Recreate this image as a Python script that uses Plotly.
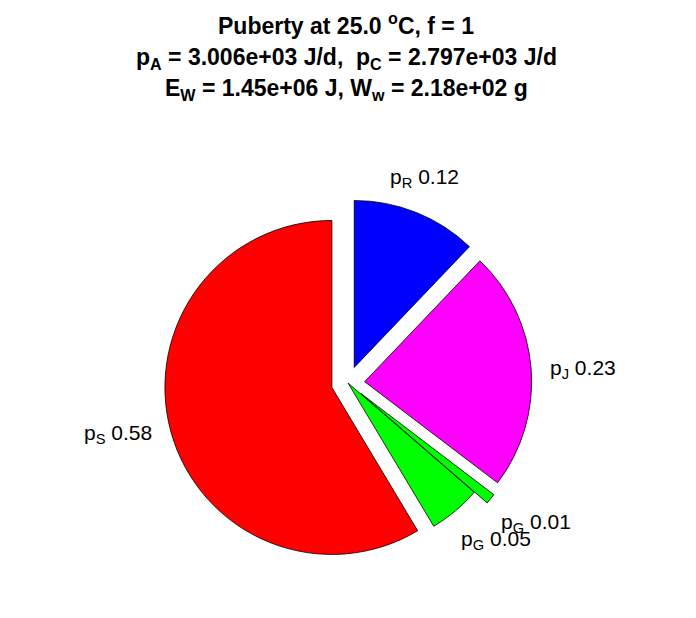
import math
import plotly.graph_objects as go

# ---- data ----
slice_labels = ["p<sub>R</sub>", "p<sub>J</sub>", "p<sub>G</sub>", "p<sub>G</sub>", "p<sub>S</sub>"]
slice_values = [0.12, 0.23, 0.01, 0.05, 0.58]
slice_colors = ["#0000ff", "#ff00ff", "#00ff00", "#00ff00", "#ff0000"]
slice_explode = [1, 1, 1, 0, 1]
title_lines = [
    "Puberty at 25.0 <sup>o</sup>C, f = 1",
    "p<sub>A</sub> = 3.006e+03 J/d, &nbsp;p<sub>C</sub> = 2.797e+03 J/d",
    "E<sub>W</sub> = 1.45e+06 J, W<sub>w</sub> = 2.18e+02 g",
]

# ---- layout geometry (pixels, in screenshot coordinates) ----
W, H = 696, 618
OFF = 8                     # page body margin
CX, CY = 348 - OFF, 383 - OFF   # pie centre in figure pixels
R = 167                     # pie radius
PULL = 0.1                  # explode fraction
FONT = "Liberation Sans, Arial, Helvetica, sans-serif"

half = R * (1 + PULL)
dom_x = [(CX - half) / W, (CX + half) / W]
dom_y = [(H - CY - half) / H, (H - CY + half) / H]

fig = go.Figure(go.Pie(
    labels=[f"s{i}" for i in range(len(slice_values))],
    values=slice_values,
    sort=False,
    direction="clockwise",
    rotation=0,
    pull=[PULL * e for e in slice_explode],
    marker=dict(colors=slice_colors, line=dict(color="black", width=0.8)),
    textinfo="none",
    hoverinfo="skip",
    showlegend=False,
    domain=dict(x=dom_x, y=dom_y),
    automargin=False,
))

annotations = []
total = sum(slice_values)
cum = 0.0
for lab, v, e in zip(slice_labels, slice_values, slice_explode):
    mid = (cum + v / 2) / total * 2 * math.pi
    cum += v
    dx, dy = math.sin(mid), -math.cos(mid)
    dist = R * (1.2 + PULL * e)
    if dx > 0.5:
        sx, sy = 19, 3
    elif dx < -0.5:
        sx, sy = -21, -7
    else:
        sx, sy = -4, -3
    px = CX + dist * dx + sx
    py = CY + dist * dy + sy
    annotations.append(dict(
        x=px / W, y=1 - py / H, xref="paper", yref="paper",
        text=f"{lab} {v:.2f}", showarrow=False,
        xanchor="center", yanchor="middle",
        font=dict(family=FONT, size=21, color="black"),
    ))

title_y = [24 - OFF, 58 - OFF, 90 - OFF]
for txt, ty in zip(title_lines, title_y):
    annotations.append(dict(
        x=(346 - OFF) / W, y=1 - ty / H, xref="paper", yref="paper",
        text=f"<b>{txt}</b>", showarrow=False,
        xanchor="center", yanchor="middle",
        font=dict(family=FONT, size=23, color="black"),
    ))

fig.update_layout(
    width=W, height=H,
    margin=dict(l=0, r=0, t=0, b=0),
    paper_bgcolor="white",
    plot_bgcolor="white",
    annotations=annotations,
)

fig.write_html("out.html")
